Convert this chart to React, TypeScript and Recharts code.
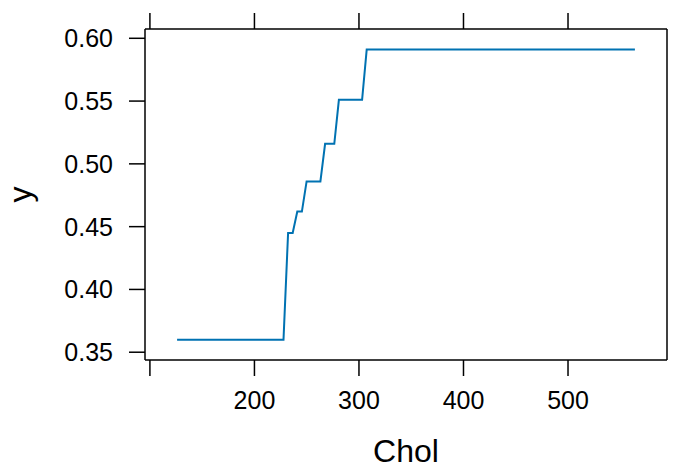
import React from 'react';
import { LineChart, Line, XAxis, YAxis } from 'recharts';

// partial dependence grid points where the curve changes level
const chol = [126, 227.8, 232.2, 236.6, 241.0, 245.4, 249.9, 263.1, 267.6, 276.4, 280.8, 303.0, 307.4, 564];
const yhat = [0.36, 0.36, 0.445, 0.445, 0.462, 0.462, 0.486, 0.486, 0.516, 0.516, 0.551, 0.551, 0.591, 0.591];

const xTicks = [100, 200, 300, 400, 500];
const yTicks = [0.35, 0.4, 0.45, 0.5, 0.55, 0.6];

const data = chol.map((c, i) => ({ chol: c, y: yhat[i] }));

const font = 'Liberation Sans, Arial, sans-serif';
const tickStyle = { fontSize: 25, fill: '#000', fontFamily: font };
const blank = () => '';

export default function App() {
  return (
    <div style={{ position: 'fixed', left: 0, top: 0, width: 675, height: 466, background: '#fff' }}>
      <LineChart width={675} height={466} data={data} margin={{ top: 0, right: 0, left: 0, bottom: 0 }}>
        <XAxis
          xAxisId="bottom"
          dataKey="chol"
          type="number"
          domain={[95.3, 594.7]}
          ticks={xTicks}
          orientation="bottom"
          height={106}
          tickSize={16}
          tickMargin={15}
          tick={tickStyle}
          tickFormatter={(v: number) => (v === 100 ? '' : String(v))}
          axisLine={{ stroke: '#000', strokeWidth: 1.5 }}
          tickLine={{ stroke: '#000', strokeWidth: 1.5 }}
          label={{ value: 'Chol', position: 'insideBottom', offset: 4, fontSize: 32, fill: '#000', fontFamily: font }}
        />
        <XAxis
          xAxisId="top"
          dataKey="chol"
          type="number"
          domain={[95.3, 594.7]}
          ticks={xTicks}
          orientation="top"
          height={29}
          tickSize={16}
          tick={tickStyle}
          tickFormatter={blank}
          axisLine={{ stroke: '#000', strokeWidth: 1.5 }}
          tickLine={{ stroke: '#000', strokeWidth: 1.5 }}
        />
        <YAxis
          yAxisId="left"
          type="number"
          domain={[0.3438, 0.6074]}
          ticks={yTicks}
          width={145}
          tickSize={16}
          tickMargin={16}
          tick={tickStyle}
          tickFormatter={(v: number) => v.toFixed(2)}
          axisLine={{ stroke: '#000', strokeWidth: 1.5 }}
          tickLine={{ stroke: '#000', strokeWidth: 1.5 }}
          label={{
            content: (p: any) => {
              const vb = p.viewBox || { x: 0, y: 0, height: 0 };
              const cx = vb.x + 31;
              const cy = vb.y + vb.height / 2;
              return (
                <text x={cx} y={cy} transform={`rotate(-90 ${cx} ${cy})`} textAnchor="middle" fontSize={32} fill="#000" fontFamily={font}>
                  y
                </text>
              );
            },
          }}
        />
        <YAxis
          yAxisId="right"
          orientation="right"
          type="number"
          domain={[0.3438, 0.6074]}
          ticks={yTicks}
          width={8}
          tickSize={8}
          tick={tickStyle}
          tickFormatter={blank}
          axisLine={{ stroke: '#000', strokeWidth: 1.5 }}
          tickLine={{ stroke: '#000', strokeWidth: 1.5 }}
        />
        <Line
          xAxisId="bottom"
          yAxisId="left"
          type="linear"
          dataKey="y"
          stroke="#0072B2"
          strokeWidth={2}
          dot={false}
          isAnimationActive={false}
        />
      </LineChart>
    </div>
  );
}
